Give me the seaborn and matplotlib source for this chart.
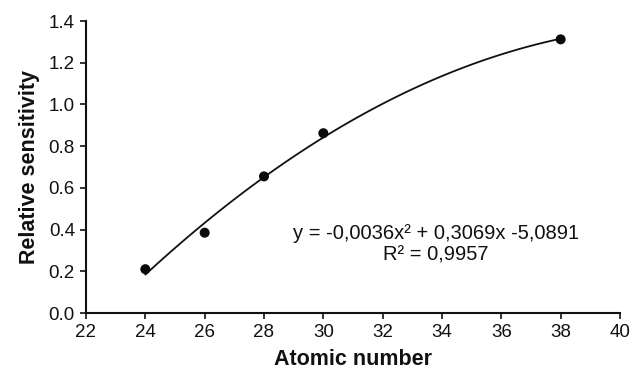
import matplotlib
matplotlib.use("Agg")
import matplotlib.pyplot as plt
import seaborn as sns
import pandas as pd

atomic_number = [24, 26, 28, 30, 38]
relative_sensitivity = [0.21, 0.385, 0.655, 0.862, 1.312]
equation_text = "y = -0,0036x\u00b2 + 0,3069x -5,0891\nR\u00b2 = 0,9957"
x_ticks = [22, 24, 26, 28, 30, 32, 34, 36, 38, 40]
y_ticks = [0.0, 0.2, 0.4, 0.6, 0.8, 1.0, 1.2, 1.4]

sns.set_theme(style="ticks")
plt.rcParams['font.family'] = ['Liberation Sans', 'DejaVu Sans']

df = pd.DataFrame({"Atomic number": atomic_number, "Relative sensitivity": relative_sensitivity})

fig = plt.figure(figsize=(6.32, 3.69), dpi=100)
ax = fig.add_axes([86/632, 1 - 313/369, (620-86)/632, (313-21)/369])

sns.regplot(data=df, x="Atomic number", y="Relative sensitivity", order=2, ci=None, ax=ax,
            scatter_kws=dict(s=52, color="#0a0a0a", edgecolor="none", alpha=1, zorder=3),
            line_kws=dict(color="#111111", lw=1.3))

ax.set_xlim(22, 40)
ax.set_ylim(0, 1.4)
ax.set_xticks(x_ticks)
ax.set_yticks(y_ticks)
ax.set_yticklabels([f"{v:.1f}" for v in y_ticks])
ax.tick_params(labelsize=13.5, length=4, width=1.2, color="#111111", labelcolor="#111111", pad=4)
for s in ["top", "right"]:
    ax.spines[s].set_visible(False)
for s in ["left", "bottom"]:
    ax.spines[s].set_linewidth(1.5)
    ax.spines[s].set_color("#111111")

ax.set_xlabel("Atomic number", fontsize=15.5, fontweight="bold", color="#111111", labelpad=6)
ax.set_ylabel("Relative sensitivity", fontsize=15.5, fontweight="bold", color="#111111", labelpad=6)

ax.text(33.8, 0.33, equation_text, ha="center", va="center", fontsize=14.5,
        color="#111111", linespacing=1.15)

fig.savefig("out.png", dpi=100)
